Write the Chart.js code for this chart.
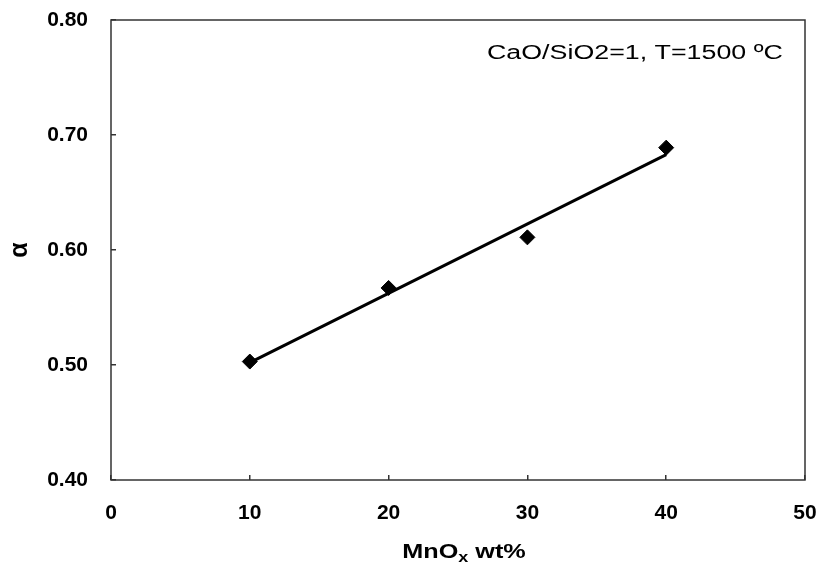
<!DOCTYPE html>
<html lang="en">
<head>
  <meta charset="UTF-8" />
  <title>alpha vs MnOx</title>
  <script src="https://cdn.jsdelivr.net/npm/chart.js"></script>
  <style>
    html, body { margin: 0; padding: 0; background: #fff; }
    #wrap { width: 817px; height: 570px; }
  </style>
</head>
<body>
  <div id="wrap"><canvas id="chart" width="817" height="570"></canvas></div>

  <script>
    // measured points
    const mnoxWt = [10, 20, 30, 40];
    const alphaVals = [0.503, 0.567, 0.611, 0.689];

    // trend line ends
    const trendX = [10, 40];
    const trendY = [0.502, 0.683];

    const xTicks = [0, 10, 20, 30, 40, 50];
    const yTicks = [0.40, 0.50, 0.60, 0.70, 0.80];

    const noteText = 'CaO/SiO2=1, T=1500 ºC';
    const xTitle = ['MnO', 'x', ' wt%'];   // middle part is a subscript

    const FONT = "'Liberation Sans', Arial, sans-serif";

    // stretched text, like the scanned original
    function wideText(ctx, parts, x, y, stretch) {
      ctx.save();
      ctx.translate(x, y);
      ctx.scale(stretch, 1);
      let cx = 0;
      parts.forEach(p => {
        ctx.font = p.font;
        ctx.fillText(p.text, cx, p.dy || 0);
        cx += ctx.measureText(p.text).width;
      });
      ctx.restore();
    }

    function partsWidth(ctx, parts) {
      let w = 0;
      ctx.save();
      parts.forEach(p => { ctx.font = p.font; w += ctx.measureText(p.text).width; });
      ctx.restore();
      return w;
    }

    // frame round the plot area, note inside it, x title under it
    const framePlugin = {
      id: 'frame',
      afterDatasetsDraw(chart) {
        const { ctx, chartArea: a } = chart;
        ctx.save();
        ctx.strokeStyle = '#333';
        ctx.lineWidth = 1.5;
        ctx.strokeRect(a.left, a.top, a.right - a.left, a.bottom - a.top);

        ctx.fillStyle = '#000';
        ctx.textBaseline = 'alphabetic';
        ctx.textAlign = 'left';
        wideText(ctx, [{ text: noteText, font: '20px ' + FONT }], 487, 58.5, 1.34);

        const big = 'bold 21px ' + FONT;
        const small = 'bold 15px ' + FONT;
        const parts = [
          { text: xTitle[0], font: big },
          { text: xTitle[1], font: small, dy: 4 },
          { text: xTitle[2], font: big }
        ];
        const stretch = 1.2;
        const w = partsWidth(ctx, parts) * stretch;
        wideText(ctx, parts, 464 - w / 2, 558, stretch);
        ctx.restore();
      }
    };

    const noPad = s => {
      s.paddingTop = 0; s.paddingBottom = 0;
      s.paddingLeft = 0; s.paddingRight = 0;
    };

    new Chart(document.getElementById('chart').getContext('2d'), {
      type: 'scatter',
      data: {
        datasets: [
          {
            label: 'alpha',
            data: mnoxWt.map((x, i) => ({ x: x, y: alphaVals[i] })),
            backgroundColor: '#000',
            borderColor: '#000',
            pointStyle: 'rectRot',
            pointRadius: 7.5,
            pointHoverRadius: 7.5,
            order: 0
          },
          {
            type: 'line',
            label: 'trend',
            data: trendX.map((x, i) => ({ x: x, y: trendY[i] })),
            borderColor: '#000',
            borderWidth: 3,
            pointRadius: 0,
            fill: false,
            order: 1
          }
        ]
      },
      options: {
        responsive: false,
        animation: false,
        events: [],
        layout: { padding: { top: 20, right: 12, left: 0, bottom: 0 } },
        plugins: {
          legend: { display: false },
          tooltip: { enabled: false }
        },
        scales: {
          x: {
            type: 'linear',
            min: 0,
            max: 50,
            afterBuildTicks: s => { s.ticks = xTicks.map(v => ({ value: v })); },
            afterFit: s => { s.height = 90; noPad(s); },
            grid: {
              drawOnChartArea: false,
              drawTicks: true,
              tickLength: -5,
              color: '#333',
              lineWidth: 1.5
            },
            border: { display: false },
            ticks: {
              color: '#000',
              padding: 26,
              font: { family: FONT, size: 21, weight: 'bold' },
              callback: v => String(v)
            },
            title: { display: false }
          },
          y: {
            type: 'linear',
            min: 0.4,
            max: 0.8,
            afterBuildTicks: s => { s.ticks = yTicks.map(v => ({ value: v })); },
            afterFit: s => { s.width = 111; noPad(s); },
            grid: {
              drawOnChartArea: false,
              drawTicks: true,
              tickLength: -5,
              color: '#333',
              lineWidth: 1.5
            },
            border: { display: false },
            ticks: {
              color: '#000',
              padding: 28,
              font: { family: FONT, size: 21, weight: 'bold' },
              callback: v => Number(v).toFixed(2)
            },
            title: {
              display: true,
              text: 'α',
              color: '#000',
              font: { family: FONT, size: 25, weight: 'bold', lineHeight: 1.2 },
              padding: { top: 5, bottom: 0 }
            }
          }
        }
      },
      plugins: [framePlugin]
    });
  </script>
</body>
</html>
